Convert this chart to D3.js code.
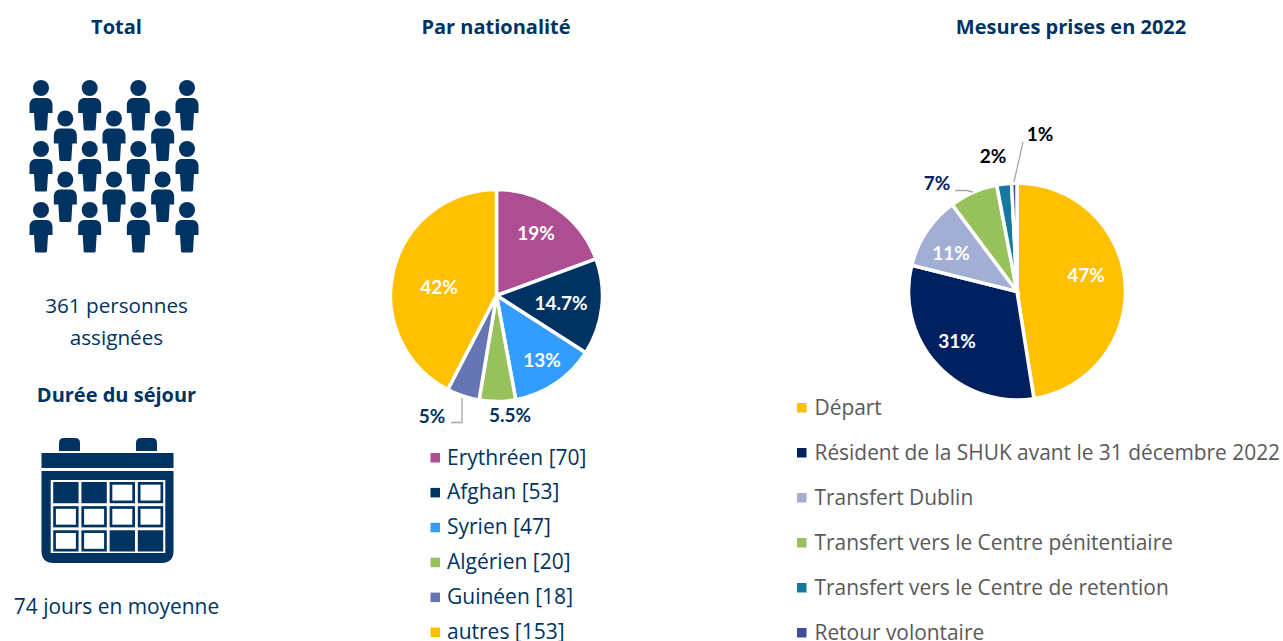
<!DOCTYPE html>
<html>
<head>
<meta charset="utf-8">
<script src="https://cdn.jsdelivr.net/npm/d3@7"></script>
<style>
  html, body { margin: 0; padding: 0; background: #fff; }
  text { font-family: "Open Sans", sans-serif; }
</style>
</head>
<body>
<div id="chart"></div>
<script>
// Pie 1: assigned people by nationality
var nationalities = ["Erythréen", "Afghan", "Syrien", "Algérien", "Guinéen", "autres"];
var nationalityCounts = [70, 53, 47, 20, 18, 153];
var nationalityLabels = ["19%", "14.7%", "13%", "5.5%", "5%", "42%"];
var nationalityColors = ["#ae4e92", "#003361", "#329cff", "#97c15a", "#6574b3", "#ffc000"];

// Pie 2: measures taken in 2022
var measures = ["Départ", "Résident de la SHUK avant le 31 décembre 2022", "Transfert Dublin",
    "Transfert vers le Centre pénitentiaire", "Transfert vers le Centre de retention", "Retour volontaire"];
var measureShares = [47.5, 31.4, 10.9, 7.2, 2.2, 0.8];
var measureLabels = ["47%", "31%", "11%", "7%", "2%", "1%"];
var measureColors = ["#ffc000", "#002060", "#a2aed3", "#97c15a", "#16789f", "#3f4e9b"];

// Left column texts
var totalLines = ["361 personnes", "assignées"];
var stayLine = "74 jours en moyenne";
var calendarCells = [[1, 1, 0, 0], [0, 0, 0, 0], [0, 0, 1, 1]];

var navy = "#003361";
var grey = "#595959";
var width = 1283;
var height = 641;

var svg = d3.select("#chart").append("svg")
    .attr("width", width)
    .attr("height", height)
    .style("display", "block");

function centerText(x, y, str, size, weight, color) {
    return svg.append("text")
        .attr("x", x)
        .attr("y", y)
        .attr("text-anchor", "middle")
        .attr("font-size", size)
        .attr("font-weight", weight)
        .attr("fill", color)
        .text(str);
}

// Headings
centerText(116.5, 34, "Total", 20, 700, navy);
centerText(496, 34, "Par nationalité", 20, 700, navy);
centerText(1071, 34, "Mesures prises en 2022", 20, 700, navy);
centerText(116.5, 402, "Durée du séjour", 20, 700, navy);

centerText(116.5, 313, totalLines[0], 20.7, 400, navy);
centerText(116.5, 345, totalLines[1], 20.7, 400, navy);
centerText(116.5, 614, stayLine, 20.9, 400, navy);

// People icon grid
var peopleX = d3.scalePoint().domain(d3.range(7)).range([41, 187]);
var peopleY = d3.scalePoint().domain(d3.range(5)).range([88, 210]);
var personBody = "M-5.5,10 H5.5 C9,10 11.5,13 11.5,17 V25 H8 L7,25 L6,41 C6,42 5,42.5 4,42.5 H-4 C-5,42.5 -6,42 -6,41 L-7,25 H-11.5 V17 C-11.5,13 -9,10 -5.5,10 Z";
var peopleCells = [];
d3.range(7).forEach(function (c) {
    d3.range(5).forEach(function (r) {
        if ((c + r) % 2 === 0) peopleCells.push({ c: c, r: r });
    });
});
var people = svg.append("g").selectAll("g").data(peopleCells).join("g")
    .attr("transform", function (d) { return "translate(" + peopleX(d.c) + "," + peopleY(d.r) + ")"; })
    .attr("fill", navy);
people.append("circle").attr("r", 8);
people.append("path").attr("d", personBody);

// Calendar icon
var cal = svg.append("g").attr("fill", navy);
[59, 136].forEach(function (x) {
    cal.append("path").attr("d", "M" + x + ",451 V443 Q" + x + ",438 " + (x + 5) + ",438 H" + (x + 16) + " Q" + (x + 21) + ",438 " + (x + 21) + ",443 V451 Z");
});
cal.append("rect").attr("x", 41.5).attr("y", 453).attr("width", 132).attr("height", 15);
cal.append("path").attr("d", "M41.5,471 H173.5 V551 Q173.5,563 161.5,563 H53.5 Q41.5,563 41.5,551 Z");
cal.append("rect").attr("x", 50.7).attr("y", 480).attr("width", 114.6).attr("height", 73).attr("fill", "#fff");
var calX = d3.scaleBand().domain(d3.range(4)).range([53.2, 163.2]).paddingInner(0.1);
var calY = d3.scaleBand().domain(d3.range(3)).range([482, 551.5]).paddingInner(0.12);
calendarCells.forEach(function (row, r) {
    row.forEach(function (filled, c) {
        cal.append("rect")
            .attr("x", calX(c)).attr("y", calY(r))
            .attr("width", calX.bandwidth()).attr("height", calY.bandwidth());
        if (!filled) {
            cal.append("rect")
                .attr("x", calX(c) + 2.7).attr("y", calY(r) + 2.7)
                .attr("width", calX.bandwidth() - 5.4).attr("height", calY.bandwidth() - 5.4)
                .attr("fill", "#fff");
        }
    });
});

// Draws one pie starting at 12 o'clock and going clockwise
function drawPie(cx, cy, r, values, colors, gap) {
    var pie = d3.pie().sort(null)(values);
    var arc = d3.arc().innerRadius(0).outerRadius(r);
    var g = svg.append("g").attr("transform", "translate(" + cx + "," + cy + ")");
    g.selectAll("path").data(pie).join("path")
        .attr("d", arc)
        .attr("fill", function (d, i) { return colors[i]; })
        .attr("stroke", "#fff")
        .attr("stroke-width", gap)
        .attr("stroke-linejoin", "miter");
    return g;
}

function pieLabels(labels, positions, colors) {
    labels.forEach(function (t, i) {
        svg.append("text")
            .attr("x", positions[i][0]).attr("y", positions[i][1])
            .attr("text-anchor", "middle")
            .attr("font-size", 19)
            .attr("font-weight", 700)
            .attr("fill", colors[i])
            .style("font-family", "Lato, sans-serif")
            .text(t);
    });
}

drawPie(496.5, 295.5, 106, nationalityCounts, nationalityColors, 3.5);
pieLabels(nationalityLabels,
    [[536, 240], [561, 310], [542, 367], [510, 422], [432, 423], [439, 294]],
    ["#fff", "#fff", "#fff", navy, navy, "#fff"]);

drawPie(1017, 291.5, 108.5, measureShares, measureColors, 3.5);
pieLabels(measureLabels,
    [[1086, 282], [957, 348], [951, 260], [937, 190], [993, 163], [1040, 141]],
    ["#fff", "#fff", "#fff", "#002060", "#000", "#000"]);

// Leader lines
var leader = svg.append("g").attr("fill", "none").attr("stroke", "#a6a6a6").attr("stroke-width", 1.3);
leader.append("path").attr("d", "M451,422.5 H462 V398");
leader.append("path").attr("d", "M955,190.5 H967 L973,192");
leader.append("path").attr("d", "M1023,142 L1014,182");

// Legends
function drawLegend(names, colors, x, yTop, step, suffix, textColor, size, textX) {
    var y = d3.scalePoint().domain(d3.range(names.length)).range([yTop, yTop + step * (names.length - 1)]);
    var g = svg.append("g");
    names.forEach(function (name, i) {
        g.append("rect")
            .attr("x", x).attr("y", y(i) - 4.5)
            .attr("width", 9.5).attr("height", 9.5)
            .attr("fill", colors[i]);
        g.append("text")
            .attr("x", textX).attr("y", y(i) + 7)
            .attr("font-size", size)
            .attr("fill", textColor)
            .text(suffix ? name + " [" + suffix[i] + "]" : name);
    });
}

drawLegend(nationalities, nationalityColors, 430.5, 457.5, 34.9, nationalityCounts, navy, 21, 447);
drawLegend(measures, measureColors, 797, 407.5, 45, null, grey, 20.9, 814.5);
</script>
</body>
</html>
